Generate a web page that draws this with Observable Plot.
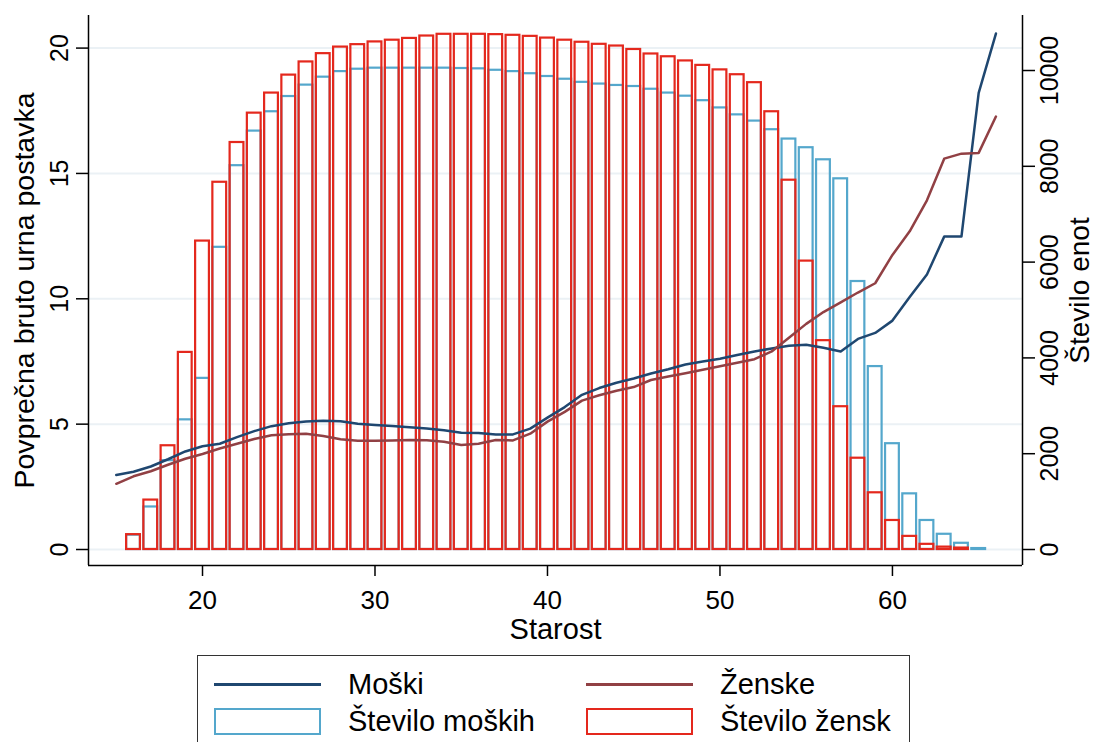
<!DOCTYPE html>
<html>
<head>
<meta charset="utf-8">
<script src="https://cdn.jsdelivr.net/npm/d3@7"></script>
<script src="https://cdn.jsdelivr.net/npm/@observablehq/plot@0.6"></script>
<style>
  html, body { margin: 0; padding: 0; background: #fff; }
  body { font-family: "Liberation Sans", Arial, sans-serif; width: 1099px; height: 742px; overflow: hidden; position: relative; }
  #chart svg { display: block; }
  .legend { position: absolute; left: 197px; top: 655px; width: 713px; height: 110px; border: 1.5px solid #333; box-sizing: border-box; }
  .legend .item { position: absolute; display: flex; align-items: center; height: 30px; }
  .legend .sw { width: 107px; box-sizing: border-box; }
  .legend .lab { position: absolute; left: 134px; white-space: nowrap; font-size: 29px; color: #000; }
</style>
</head>
<body>
<div id="chart"></div>
<div class="legend" id="legend"></div>
<script>
// Ages for the wage curves
const wageAges = [15,16,17,18,19,20,21,22,23,24,25,26,27,28,29,30,31,32,33,34,35,36,37,38,39,40,
  41,42,43,44,45,46,47,48,49,50,51,52,53,54,55,56,57,58,59,60,61,62,63,64,65,66];
// Average gross hourly wage, men
const menWage = [2.97,3.10,3.31,3.60,3.91,4.12,4.22,4.48,4.72,4.92,5.04,5.11,5.14,5.12,5.02,4.97,
  4.93,4.88,4.83,4.76,4.66,4.65,4.59,4.59,4.82,5.26,5.68,6.17,6.44,6.65,6.82,7.02,7.19,
  7.38,7.50,7.61,7.76,7.90,8.02,8.13,8.17,8.05,7.90,8.40,8.64,9.13,10.07,10.97,12.48,12.48,18.21,20.58];
// Average gross hourly wage, women
const womenWage = [2.62,2.92,3.12,3.38,3.62,3.81,4.03,4.22,4.41,4.56,4.60,4.62,4.53,4.40,4.34,4.34,
  4.35,4.37,4.36,4.30,4.17,4.22,4.37,4.35,4.62,5.10,5.49,5.94,6.15,6.33,6.48,6.76,6.90,
  7.03,7.17,7.31,7.45,7.59,7.90,8.45,9.00,9.47,9.86,10.25,10.62,11.75,12.69,13.93,15.59,15.79,15.82,17.27];

// Ages for the head-count bars
const countAges = [16,17,18,19,20,21,22,23,24,25,26,27,28,29,30,31,32,33,34,35,36,37,38,39,40,
  41,42,43,44,45,46,47,48,49,50,51,52,53,54,55,56,57,58,59,60,61,62,63,64,65];
// Number of men per age
const menCount = [300,888,1855,2707,3573,6309,8013,8735,9139,9457,
  9695,9861,9977,10027,10049,10049,10049,10049,10049,10042,
  10035,10005,9977,9933,9875,9818,9753,9717,9688,9666,
  9609,9529,9464,9370,9219,9074,8944,8764,8569,8388,
  8136,7739,5595,3819,2209,1162,606,318,130,20];
// Number of women per age (none at 65)
const womenCount = [310,1032,2166,4115,6439,7667,8497,9110,9529,9904,
  10179,10352,10489,10540,10597,10633,10670,10720,10756,10756,
  10756,10749,10735,10713,10677,10633,10590,10547,10511,10439,
  10345,10287,10200,10107,10013,9912,9746,9139,7710,6021,
  4360,2981,1906,1184,606,274,108,50,30,null];

const leftTicks = [0, 5, 10, 15, 20];
const rightTicks = [0, 2000, 4000, 6000, 8000, 10000];
const xTicks = [20, 30, 40, 50, 60];

const seriesNames = ["Moški", "Ženske", "Število moških", "Število žensk"];
const yTitle = "Povprečna bruto urna postavka";
const y2Title = "Število enot";
const xTitle = "Starost";

const colors = { men: "#1f4770", women: "#914044", menBar: "#54a7cc", womenBar: "#e4281d" };

// Counts share the wage axis: one wage unit corresponds to this many persons
const K = 523.4;
const xDomain = [13.39, 67.54];
const yDomain = [-0.638, 21.30];

const wageRows = wageAges.map((a, i) => ({ age: a, men: menWage[i], women: womenWage[i] }));
const countRows = countAges.map((a, i) => ({ age: a, men: menCount[i], women: womenCount[i] }));
const half = 0.4;
const font = "Liberation Sans, Arial, sans-serif";
const centered = { textAnchor: "middle", lineAnchor: "middle", fill: "#000" };

const chart = Plot.plot({
  width: 1099,
  height: 650,
  marginLeft: 88,
  marginRight: 77,
  marginTop: 15,
  marginBottom: 85,
  style: { fontFamily: font, fontSize: "24px", color: "#000", background: "#fff" },
  x: { domain: xDomain, axis: null },
  y: { domain: yDomain, axis: null },
  marks: [
    Plot.gridY(leftTicks, { stroke: "#ebf1f5", strokeOpacity: 1, strokeWidth: 2 }),
    Plot.rect(countRows.filter(d => d.men != null), {
      x1: d => d.age - half, x2: d => d.age + half, y1: 0, y2: d => d.men / K,
      fill: "none", stroke: colors.menBar, strokeWidth: 2.2
    }),
    Plot.rect(countRows.filter(d => d.women != null), {
      x1: d => d.age - half, x2: d => d.age + half, y1: 0, y2: d => d.women / K,
      fill: "none", stroke: colors.womenBar, strokeWidth: 2.2
    }),
    Plot.line(wageRows, { x: "age", y: "men", stroke: colors.men, strokeWidth: 2.5 }),
    Plot.line(wageRows, { x: "age", y: "women", stroke: colors.women, strokeWidth: 2.5 }),
    // axis lines (open top)
    Plot.ruleX([xDomain[0], xDomain[1]], { stroke: "#000", strokeWidth: 1.5 }),
    Plot.ruleY([yDomain[0]], { stroke: "#000", strokeWidth: 1.5 }),
    // left axis ticks and labels
    Plot.axisY(leftTicks, { anchor: "left", tickSize: 12, tickFormat: () => "", label: null, stroke: "#000", strokeWidth: 1.5 }),
    Plot.text(leftTicks, { y: d => d, frameAnchor: "left", dx: -29, rotate: -90, text: d => String(d), fontSize: 25, ...centered }),
    // right axis ticks and labels (counts)
    Plot.axisY(rightTicks.map(c => c / K), { anchor: "right", tickSize: 12, tickFormat: () => "", label: null, stroke: "#000", strokeWidth: 1.5 }),
    Plot.text(rightTicks, { y: d => d / K, frameAnchor: "right", dx: 27, rotate: -90, text: d => String(d), fontSize: 25, ...centered }),
    // bottom axis
    Plot.axisX(xTicks, { anchor: "bottom", tickSize: 11, tickPadding: 14, label: null, fontSize: 26, stroke: "#000", strokeWidth: 1.5 }),
    // axis titles
    Plot.text([yTitle], { frameAnchor: "left", dx: -64, rotate: -90, fontSize: 28.5, ...centered }),
    Plot.text([y2Title], { frameAnchor: "right", dx: 58, rotate: -90, fontSize: 28, ...centered }),
    Plot.text([xTitle], { frameAnchor: "bottom", dy: 64, fontSize: 29, ...centered })
  ]
});
document.getElementById("chart").appendChild(chart);

// Legend below the chart
const legend = document.getElementById("legend");
const items = [
  { name: seriesNames[0], kind: "line", color: colors.men, left: 16, top: 13 },
  { name: seriesNames[1], kind: "line", color: colors.women, left: 388, top: 13 },
  { name: seriesNames[2], kind: "box", color: colors.menBar, left: 16, top: 50 },
  { name: seriesNames[3], kind: "box", color: colors.womenBar, left: 388, top: 50 }
];
for (const it of items) {
  const el = document.createElement("div");
  el.className = "item";
  el.style.left = it.left + "px";
  el.style.top = it.top + "px";
  const sw = document.createElement("div");
  sw.className = "sw";
  if (it.kind === "line") {
    sw.style.height = "3px";
    sw.style.background = it.color;
  } else {
    sw.style.height = "27px";
    sw.style.border = "2px solid " + it.color;
  }
  const lab = document.createElement("span");
  lab.className = "lab";
  lab.textContent = it.name;
  el.appendChild(sw);
  el.appendChild(lab);
  legend.appendChild(el);
}
</script>
</body>
</html>
